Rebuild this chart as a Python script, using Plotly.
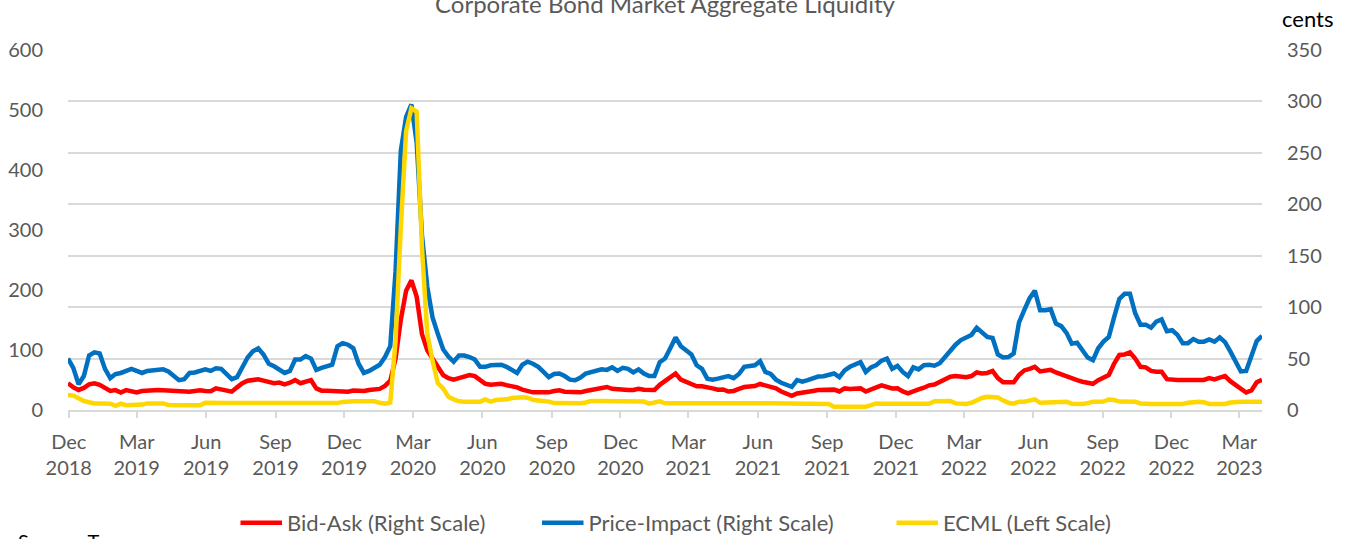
import pandas as pd
import plotly.graph_objects as go

# ---- data (weekly) ----
start_date = "2018-11-30"

bid_ask = [
    26, 22, 19.5, 21.5, 25, 26, 24.5, 21, 18.5, 19.3,
    17, 19.3, 18.7, 17, 18.5, 19, 19.2, 19.4, 19.3, 19,
    18.8, 17.5, 17.6, 17.8, 18.5, 19.2, 18.5, 18.3, 21, 20,
    18.3, 17.8, 22, 26, 28.5, 29.5, 29.8, 28.5, 27, 26,
    26.7, 25, 26.5, 29, 26, 27, 29, 21, 18.8, 18.8,
    18.8, 18.8, 18.5, 17.8, 19, 18.5, 18.5, 19.4, 19.8, 20.5,
    23.5, 28.5, 50, 88, 116, 126, 110, 74, 58, 50,
    41, 34, 31, 29.5, 31, 33, 34, 33, 29.5, 25.5,
    24.5, 25.5, 25.5, 24.2, 23.3, 22, 19.8, 18.5, 17.2, 17.2,
    17.2, 17.2, 18.5, 19.2, 17.8, 17.5, 17.3, 17.2, 18.5, 19.6,
    20.2, 21.5, 22.4, 20.6, 20, 19.5, 19.4, 19.4, 20.7, 19.7,
    19.4, 19.4, 24.5, 28, 31, 35.5, 29.5, 27.5, 26, 23,
    23, 22.5, 21, 19.7, 20, 18, 18.5, 20.5, 22.3, 22.8,
    23.3, 25.3, 24, 22.4, 21, 18, 16, 13.7, 16, 16.5,
    17, 18.5, 19.4, 19.6, 19.9, 19.8, 18, 21, 20.5, 20.3,
    21, 18, 20.5, 22, 24, 22.5, 21, 21.1, 18, 16.2,
    18.5, 20, 21.7, 24, 24.8, 27, 30, 32.3, 33, 32,
    31.8, 33, 36.5, 35.5, 36, 38, 31, 27, 26.7, 26.9,
    34, 38.5, 40, 42, 37.5, 38.5, 39, 36.5, 34.5, 33,
    30, 29, 27.5, 26.5, 25.5, 29, 32, 34, 45, 53.5,
    54, 56, 50, 42, 41.5, 38, 37.3, 37.3, 30, 29.2,
    29.2, 29.2, 29.2, 29.2, 29.2, 29.2, 31, 29.8, 31.5, 33,
    28, 24, 20, 17, 19, 27, 29.5,
]

price_impact = [
    50, 41, 25, 33, 53, 56, 55, 40, 31, 35,
    36, 38, 40, 38, 36, 38, 38.5, 39, 39.5, 37.5,
    33.5, 29, 30, 36, 36.5, 37.5, 39.5, 38, 40.5, 40,
    35.5, 30, 32, 42, 51, 57, 60, 54, 45, 42.5,
    39.5, 36, 38, 49, 49, 52.5, 50, 39, 41, 42,
    44, 62, 65, 63.5, 60, 45, 36, 38, 41.5, 44,
    51.5, 62, 135, 252, 285, 297, 260, 170, 120, 90,
    74, 59, 52, 47, 53, 53, 51.5, 49, 42, 42,
    43.5, 44, 44, 42, 39, 36, 44, 47, 45, 42,
    37, 32, 35, 35.5, 33, 29.5, 29, 31.5, 35.5, 36.5,
    37.5, 39.5, 39, 41.5, 38, 41, 40, 36.5, 39.5, 35.5,
    33, 33, 46.5, 50, 60, 70.5, 62, 58, 54, 43.5,
    40, 30.5, 29.5, 30.5, 32, 33, 31, 35, 42, 43,
    43.5, 47.5, 37, 35, 29.5, 26.5, 24, 22.5, 29, 27.5,
    29, 31, 32.5, 32.8, 34, 35.5, 32, 38.5, 42, 44.5,
    46.5, 37, 41.5, 43.7, 48, 50, 40, 43, 37, 33,
    41.5, 39.5, 43.5, 44, 43, 45.5, 52, 58, 63.5, 68,
    70, 73, 80, 75.5, 71, 70, 54, 51, 51.5, 55,
    85, 97, 108.5, 116, 97, 97, 98, 84, 81.5, 75,
    64.5, 65.5, 58, 51, 48.5, 60, 66.5, 71, 90, 108,
    113, 113, 94, 83, 83, 80, 86, 88, 76.5, 77.5,
    73, 65, 65, 69, 66.4, 66.4, 68.5, 66.4, 70.5, 66,
    57, 46, 37.5, 38, 52, 67, 72,
]

ecml = [
    25, 24, 19.5, 15, 13, 11, 11, 11, 10.5, 7,
    10.5, 8, 7.8, 7.8, 9, 11, 11, 11, 11, 8.5,
    7.8, 7.8, 7.8, 7.8, 7.8, 7.8, 12, 11.5, 11.5, 11.5,
    11.5, 11.5, 11.5, 11.5, 11.5, 11.5, 11.5, 11.5, 11.5, 11.5,
    11.5, 11.5, 11.5, 11.5, 11.5, 11.5, 11.5, 11.5, 11.5, 11.5,
    11.5, 11.5, 13.5, 14.5, 14.5, 14.5, 14.5, 14.5, 14.5, 12,
    10.5, 12.5, 115, 305, 465, 503, 497, 270, 128, 82,
    45, 36, 22, 17.8, 14.5, 13.9, 13.9, 13.9, 13.9, 17.5,
    14, 16.5, 17, 17.8, 20, 21.1, 21.1, 20.5, 17, 16,
    15.3, 14, 11.5, 11.1, 11.1, 11.1, 11.1, 11.1, 12.5, 15,
    15, 15, 15, 15, 15, 15, 15, 15, 15, 14,
    10.5, 12.5, 14.5, 11.2, 11.1, 11.1, 11.1, 11.1, 11.1, 11.1,
    11.1, 11.1, 11.1, 11.1, 11.1, 11.1, 11.1, 11.1, 11.1, 11.1,
    11.1, 11.1, 11.1, 11.1, 11.1, 11.1, 11.1, 11.1, 11.1, 11.1,
    11.1, 11.1, 11.1, 11.1, 10, 5.5, 5.5, 5.5, 5.5, 5.5,
    5.5, 5.5, 8, 11, 10.5, 10.5, 10.5, 10.5, 10.5, 10.5,
    10.5, 10.5, 10.5, 10.5, 14.5, 15, 15, 15, 11, 10,
    10, 12, 16.5, 20, 22, 22, 21, 16, 12, 10.5,
    13.9, 13.9, 15, 17.8, 12, 12.5, 13.9, 13.9, 13.9, 13.9,
    10.5, 10, 10, 11.5, 13.9, 13.9, 14, 17.5, 16.7, 14,
    13.9, 13.9, 13.9, 11, 10, 10, 10, 10, 10, 10,
    10, 10, 12, 13.9, 13.9, 13, 10, 10, 10, 10,
    12.5, 13.9, 13.9, 13.9, 13.9, 13.9, 13.9,
]

tick_dates = [
    "2018-12-01", "2019-03-01", "2019-06-01", "2019-09-01", "2019-12-01",
    "2020-03-01", "2020-06-01", "2020-09-01", "2020-12-01", "2021-03-01",
    "2021-06-01", "2021-09-01", "2021-12-01", "2022-03-01", "2022-06-01",
    "2022-09-01", "2022-12-01", "2023-03-01",
]
tick_labels = [
    "Dec<br>2018", "Mar<br>2019", "Jun<br>2019", "Sep<br>2019", "Dec<br>2019",
    "Mar<br>2020", "Jun<br>2020", "Sep<br>2020", "Dec<br>2020", "Mar<br>2021",
    "Jun<br>2021", "Sep<br>2021", "Dec<br>2021", "Mar<br>2022", "Jun<br>2022",
    "Sep<br>2022", "Dec<br>2022", "Mar<br>2023",
]
left_ticks = [0, 100, 200, 300, 400, 500, 600]
right_ticks = [0, 50, 100, 150, 200, 250, 300, 350]

dates = pd.date_range(start_date, periods=len(bid_ask), freq="7D")

FONT = "Lato, 'Open Sans', sans-serif"
GREY = "#595959"
GRID = "#d9d9d9"
W, H = 1347, 539

fig = go.Figure()
fig.add_trace(go.Scatter(x=dates, y=bid_ask, mode="lines", name="Bid-Ask (Right Scale)",
                         line=dict(color="#FF0000", width=4.5), yaxis="y", legendwidth=245))
fig.add_trace(go.Scatter(x=dates, y=price_impact, mode="lines", name="Price-Impact (Right Scale)",
                         line=dict(color="#0070C0", width=4.5), yaxis="y", legendwidth=298))
fig.add_trace(go.Scatter(x=dates, y=ecml, mode="lines", name="ECML (Left Scale)",
                         line=dict(color="#FFD700", width=4.5), yaxis="y2", legendwidth=200))

fig.update_layout(
    width=W, height=H,
    margin=dict(l=68, r=85, t=50, b=129, autoexpand=False),
    plot_bgcolor="white", paper_bgcolor="white",
    font=dict(family=FONT, size=20, color=GREY),
    title=dict(text="Corporate Bond Market Aggregate Liquidity",
               font=dict(family=FONT, size=24, color=GREY),
               xref="paper", x=0.5, xanchor="center",
               yref="container", y=1 - 5 / H, yanchor="middle"),
    legend=dict(orientation="h", xref="container", x=235.5 / W, xanchor="left",
                yref="container", y=(H - 523) / H, yanchor="middle",
                font=dict(family=FONT, size=22, color=GREY), itemwidth=41.5),
    xaxis=dict(type="date", range=[dates[0], dates[-1]],
               tickmode="array", tickvals=tick_dates, ticktext=tick_labels,
               showgrid=False, zeroline=False,
               showline=True, linecolor=GRID, linewidth=1.5,
               ticks="outside", ticklen=6, tickcolor=GRID, tickwidth=1.5,
               ticklabelstandoff=7,
               tickfont=dict(family=FONT, size=20, color=GREY)),
    yaxis=dict(side="right", range=[0, 350], tickmode="array", tickvals=right_ticks,
               showgrid=True, gridcolor=GRID, gridwidth=1.5, zeroline=False,
               ticks="outside", ticklen=20, tickcolor="rgba(0,0,0,0)",
               tickfont=dict(family=FONT, size=20, color=GREY)),
    yaxis2=dict(side="left", overlaying="y", range=[0, 600], tickmode="array", tickvals=left_ticks,
                showgrid=False, zeroline=False,
                ticks="outside", ticklen=20, tickcolor="rgba(0,0,0,0)",
                tickfont=dict(family=FONT, size=20, color=GREY)),
)

fig.add_annotation(text="cents", xref="paper", yref="paper",
                   x=(1307 - 68) / 1194, y=(410 - 18) / 360,
                   xanchor="center", yanchor="middle", showarrow=False,
                   font=dict(family=FONT, size=22, color="black"))
fig.add_annotation(text="Source: Trace", xref="paper", yref="paper",
                   x=(16 - 68) / 1194, y=(410 - 541) / 360,
                   xanchor="left", yanchor="middle", showarrow=False,
                   font=dict(family=FONT, size=20, color="black"))

fig.write_html("out.html", config={"displayModeBar": False},
               post_script="document.body.style.margin='0px';")
